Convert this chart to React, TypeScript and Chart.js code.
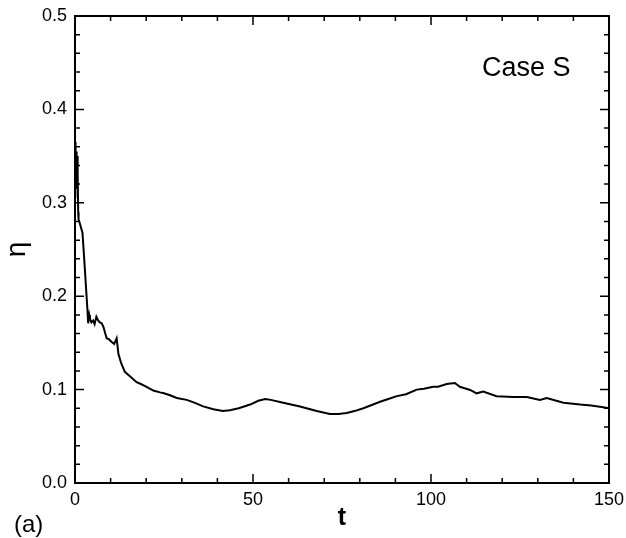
import React, { useEffect, useRef } from "react";
import { Chart, registerables } from "chart.js";

Chart.register(...registerables);

const tValues = [0, 0.1, 0.2, 0.3, 0.4, 0.5, 0.6, 0.7, 0.8, 0.9, 1.0, 1.2, 1.5, 1.8, 2.1, 2.5, 3.0, 3.5, 3.7, 4.0, 4.2, 4.6, 5.1, 5.5, 6.0, 6.5, 7.0, 7.5, 8.0, 8.5, 8.9, 9.5, 10.3, 11.0, 11.7, 12.2, 13.0, 14.0, 15.5, 17.3, 18.5, 20.1, 22.0, 23.9, 25.0, 26.7, 28.6, 31.4, 33.5, 36.0, 38.9, 41.5, 43.5, 46.0, 49.2, 51.5, 53.4, 55.0, 58.5, 63.2, 67.9, 71.6, 74.0, 76.3, 78.5, 81.0, 85.7, 88.0, 90.4, 93.0, 96.0, 98.0, 100.6, 102.0, 104.4, 106.7, 108.1, 111.0, 112.8, 114.7, 118.4, 123.1, 126.9, 130.6, 132.5, 137.2, 141.9, 145.0, 148.4, 150];

const etaValues = [0.365, 0.335, 0.36, 0.34, 0.355, 0.315, 0.35, 0.305, 0.33, 0.29, 0.282, 0.28, 0.276, 0.272, 0.268, 0.245, 0.215, 0.185, 0.171, 0.18, 0.176, 0.172, 0.174, 0.17, 0.178, 0.174, 0.172, 0.171, 0.167, 0.16, 0.155, 0.154, 0.151, 0.149, 0.155, 0.138, 0.128, 0.119, 0.114, 0.108, 0.106, 0.103, 0.099, 0.097, 0.096, 0.094, 0.091, 0.089, 0.086, 0.082, 0.079, 0.077, 0.078, 0.080, 0.084, 0.088, 0.090, 0.089, 0.086, 0.082, 0.077, 0.074, 0.074, 0.075, 0.077, 0.080, 0.087, 0.090, 0.093, 0.095, 0.100, 0.101, 0.103, 0.103, 0.106, 0.107, 0.103, 0.0996, 0.096, 0.098, 0.093, 0.092, 0.092, 0.089, 0.091, 0.086, 0.084, 0.083, 0.081, 0.080];

const xMajorTicks = [0, 50, 100, 150];
const yMajorTicks = [0, 0.1, 0.2, 0.3, 0.4, 0.5];
const xMinorStep = 10;
const yMinorStep = 0.02;

const FONT = "'Liberation Sans', Arial, Helvetica, sans-serif";

const framePlugin = {
  id: "frameTicks",
  afterDraw(chart: any) {
    const ctx = chart.ctx;
    const { left, right, top, bottom } = chart.chartArea;
    const xs = chart.scales.x;
    const ys = chart.scales.y;
    ctx.save();
    ctx.strokeStyle = "#000";
    ctx.lineWidth = 2;
    ctx.strokeRect(left, top, right - left, bottom - top);
    ctx.lineWidth = 1.5;
    const majLen = 9;
    const minLen = 5;
    for (let v = 0; v <= 150 + 1e-9; v += xMinorStep) {
      const isMajor = xMajorTicks.some((m) => Math.abs(m - v) < 1e-6);
      const len = isMajor ? majLen : minLen;
      const px = xs.getPixelForValue(v);
      ctx.beginPath();
      ctx.moveTo(px, bottom);
      ctx.lineTo(px, bottom - len);
      ctx.moveTo(px, top);
      ctx.lineTo(px, top + len);
      ctx.stroke();
    }
    for (let i = 0; i <= 25; i++) {
      const v = i * yMinorStep;
      const isMajor = yMajorTicks.some((m) => Math.abs(m - v) < 1e-6);
      const len = isMajor ? majLen : minLen;
      const py = ys.getPixelForValue(v);
      ctx.beginPath();
      ctx.moveTo(left, py);
      ctx.lineTo(left + len, py);
      ctx.moveTo(right, py);
      ctx.lineTo(right - len, py);
      ctx.stroke();
    }
    ctx.fillStyle = "#000";
    ctx.textBaseline = "alphabetic";
    ctx.textAlign = "left";
    ctx.font = `27px ${FONT}`;
    ctx.fillText("Case S", 482, 76);
    ctx.font = `24px ${FONT}`;
    ctx.fillText("(a)", 14, 532);
    ctx.restore();
  },
};

export default function App() {
  const ref = useRef<HTMLCanvasElement | null>(null);
  useEffect(() => {
    if (!ref.current) return;
    const data = tValues.map((t, i) => ({ x: t, y: etaValues[i] }));
    const chart = new Chart(ref.current, {
      type: "line",
      data: {
        datasets: [
          {
            data,
            borderColor: "#000",
            borderWidth: 2,
            pointRadius: 0,
            tension: 0,
            fill: false,
          },
        ],
      },
      options: {
        animation: false,
        responsive: false,
        maintainAspectRatio: false,
        layout: { padding: { top: 16, right: 17, bottom: 5, left: 0 } },
        plugins: { legend: { display: false }, tooltip: { enabled: false } },
        scales: {
          x: {
            type: "linear",
            min: 0,
            max: 150,
            afterFit: (s: any) => {
              s.height = 50;
              s.paddingLeft = 0;
              s.paddingRight = 0;
            },
            ticks: {
              stepSize: 50,
              color: "#000",
              padding: 6,
              font: { family: FONT, size: 18 },
              maxRotation: 0,
            },
            grid: { display: false, drawTicks: false },
            border: { display: false },
            title: {
              display: true,
              text: "t",
              color: "#000",
              font: { family: FONT, size: 25, weight: "bold" },
              padding: { top: 0, bottom: 0 },
            },
          },
          y: {
            type: "linear",
            min: 0,
            max: 0.5,
            afterFit: (s: any) => {
              s.width = 75;
              s.paddingTop = 0;
              s.paddingBottom = 0;
            },
            ticks: {
              stepSize: 0.1,
              color: "#000",
              padding: 8,
              font: { family: FONT, size: 18 },
              callback: (v: any) => Number(v).toFixed(1),
            },
            grid: { display: false, drawTicks: false },
            border: { display: false },
            title: {
              display: true,
              text: "η",
              color: "#000",
              font: { family: FONT, size: 28 },
              padding: { top: 0, bottom: 0 },
            },
          },
        },
      },
      plugins: [framePlugin],
    });
    return () => chart.destroy();
  }, []);
  return (
    <div style={{ position: "fixed", left: 0, top: 0, width: 626, height: 538, background: "#fff" }}>
      <canvas ref={ref} width={626} height={538} style={{ width: 626, height: 538, display: "block" }} />
    </div>
  );
}
